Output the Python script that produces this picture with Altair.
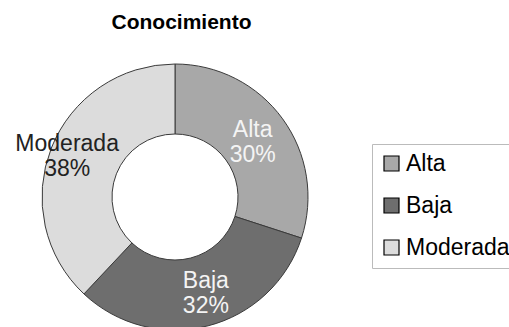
import altair as alt
import pandas as pd

categories = ["Alta", "Baja", "Moderada"]
values = [30, 32, 38]
colors = ["#a8a8a8", "#6e6e6e", "#dcdcdc"]
text_colors = ["#f4f4f4", "#f4f4f4", "#222222"]

df = pd.DataFrame({
    "category": categories,
    "value": values,
    "idx": list(range(len(categories))),
    "label": [f"{c}\n{v}%" for c, v in zip(categories, values)],
})

FONT = "Liberation Sans"
CX, CY = 175, 197

arc = alt.Chart(df).mark_arc(
    innerRadius=63, outerRadius=133, stroke="#3a3a3a", strokeWidth=1
).encode(
    theta=alt.Theta("value:Q", stack=True),
    order=alt.Order("idx:Q"),
    color=alt.Color(
        "category:N",
        scale=alt.Scale(domain=categories, range=colors),
        legend=alt.Legend(
            orient="none", legendX=372, legendY=144, title=None,
            symbolType="square", symbolSize=225,
            symbolStrokeColor="black", symbolStrokeWidth=1.2,
            labelFontSize=23, labelFont=FONT, labelColor="black",
            strokeColor="#bbbbbb", fillColor="white", padding=8,
            rowPadding=18, labelOffset=3, labelLimit=300,
        ),
    ),
    x=alt.value(CX),
    y=alt.value(CY),
)


def label_layer(cat, radius, dx=0, dy=0):
    i = categories.index(cat)
    return alt.Chart(df).transform_window(
        cum="sum(value)", sort=[alt.SortField("idx")]
    ).transform_joinaggregate(
        total="sum(value)"
    ).transform_calculate(
        mid="(datum.cum - datum.value / 2) / datum.total * 2 * PI"
    ).transform_filter(
        alt.datum.category == cat
    ).mark_text(
        radius=radius, dx=dx, dy=dy, fontSize=23, font=FONT, lineBreak="\n",
        lineHeight=25, align="center", baseline="middle", color=text_colors[i],
    ).encode(
        theta=alt.Theta("mid:Q", scale=None),
        text="label:N",
        x=alt.value(CX),
        y=alt.value(CY),
    )


chart = alt.layer(
    arc,
    label_layer("Alta", 96, dy=-11),
    label_layer("Baja", 100, dx=6, dy=-13),
    label_layer("Moderada", 116, dy=-10),
).properties(
    width=509,
    height=327,
    autosize=alt.AutoSizeParams(type="none"),
    padding=0,
    background="white",
    title=alt.TitleParams(
        "Conocimiento", font=FONT, fontSize=21, fontWeight="bold",
        color="black", anchor="middle", dx=-73, dy=37,
    ),
).configure_view(stroke=None)

chart.save("out.html", embed_options={"renderer": "svg", "actions": False})
